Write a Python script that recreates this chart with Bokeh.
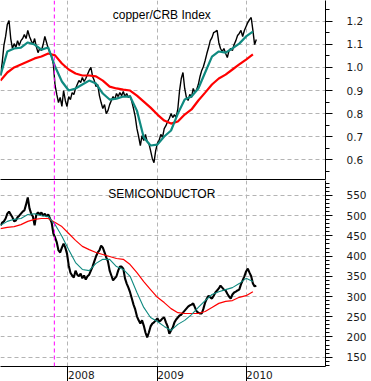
import pandas as pd
from bokeh.plotting import figure
from bokeh.models import (Range1d, LinearAxis, DatetimeAxis, FixedTicker,
                          PrintfTickFormatter, Span, Label, Grid)
from bokeh.layouts import column
from bokeh.embed import file_html
from bokeh.resources import INLINE

# ---------------- data ----------------
weekly_start = "2007-03-30"   # weekly closes
ma_start = "2007-03-30"       # moving averages sampled every 4 weeks

copper = [0.965, 1.021, 1.095, 1.134, 1.186, 1.203, 1.125, 1.082, 1.103, 1.086,
          1.116, 1.095, 1.116, 1.125, 1.142, 1.125, 1.160, 1.134, 1.116, 1.099,
          1.125, 1.090, 1.064, 1.082, 1.073, 1.099, 1.134, 1.108, 1.082, 1.064,
          1.047, 1.013, 0.922, 0.883, 0.848, 0.870, 0.831, 0.900, 0.857, 0.831,
          0.874, 0.861, 0.891, 0.883, 0.909, 0.926, 0.943, 0.935, 0.956, 0.939,
          0.952, 0.969, 0.987, 1.000, 0.961, 0.943, 0.917, 0.926, 0.878, 0.848,
          0.822, 0.839, 0.800, 0.813, 0.839, 0.857, 0.874, 0.861, 0.887, 0.874,
          0.891, 0.878, 0.896, 0.874, 0.887, 0.870, 0.878, 0.852, 0.822, 0.787,
          0.735, 0.701, 0.662, 0.705, 0.684, 0.710, 0.679, 0.671, 0.640, 0.606,
          0.588, 0.640, 0.671, 0.684, 0.710, 0.697, 0.735, 0.748, 0.766, 0.779,
          0.800, 0.783, 0.796, 0.783, 0.822, 0.900, 0.952, 0.978, 0.909, 0.870,
          0.857, 0.883, 0.870, 0.909, 0.891, 0.904, 0.926, 0.961, 0.987, 1.004,
          1.030, 1.060, 1.086, 1.116, 1.129, 1.151, 1.155, 1.160, 1.108, 1.082,
          1.069, 1.082, 1.060, 1.043, 1.073, 1.082, 1.073, 1.099, 1.116, 1.138,
          1.147, 1.160, 1.134, 1.160, 1.177, 1.194, 1.207, 1.216, 1.160, 1.099,
          1.121]
copper_fast = [0.965, 1.069, 1.082, 1.086, 1.108, 1.099, 1.077, 1.086, 1.004, 0.939,
               0.900, 0.909, 0.926, 0.943, 0.930, 0.887, 0.861, 0.865, 0.874, 0.874,
               0.813, 0.697, 0.662, 0.666, 0.701, 0.727, 0.800, 0.861, 0.874, 0.909,
               0.978, 1.047, 1.069, 1.064, 1.082, 1.103, 1.134, 1.155]
copper_slow = [0.943, 0.978, 1.000, 1.013, 1.026, 1.039, 1.047, 1.060, 1.052, 1.017,
               0.991, 0.974, 0.965, 0.965, 0.961, 0.943, 0.917, 0.909, 0.904, 0.900,
               0.878, 0.852, 0.826, 0.796, 0.770, 0.757, 0.766, 0.796, 0.818, 0.857,
               0.891, 0.926, 0.952, 0.969, 0.991, 1.013, 1.034, 1.056]

semi = [476, 483, 486, 493, 505, 510, 503, 496, 486, 488,
        496, 500, 505, 510, 513, 528, 545, 518, 505, 498,
        476, 503, 508, 503, 508, 500, 505, 498, 503, 493,
        483, 456, 446, 434, 414, 409, 421, 431, 421, 406,
        377, 359, 352, 347, 364, 354, 350, 357, 345, 352,
        342, 350, 354, 364, 374, 387, 399, 409, 414, 426,
        421, 409, 397, 387, 364, 352, 340, 345, 350, 364,
        374, 374, 369, 345, 332, 322, 310, 295, 280, 268,
        251, 241, 233, 241, 228, 211, 199, 211, 226, 233,
        236, 241, 246, 238, 241, 246, 248, 236, 226, 208,
        216, 223, 236, 243, 248, 253, 255, 260, 265, 270,
        275, 278, 280, 283, 273, 263, 260, 258, 258, 270,
        285, 295, 302, 298, 295, 302, 310, 315, 320, 327,
        322, 317, 315, 307, 300, 295, 305, 310, 312, 315,
        317, 330, 340, 350, 362, 369, 359, 350, 332, 325,
        327]
semi_fast = [476, 486, 491, 493, 503, 505, 500, 498, 478, 449,
             416, 384, 367, 364, 382, 392, 392, 374, 367, 350,
             310, 273, 248, 238, 226, 216, 231, 241, 255, 273,
             290, 305, 312, 317, 322, 332, 345, 337]
semi_slow = [468, 471, 473, 478, 486, 491, 493, 493, 483, 473,
             456, 439, 424, 416, 409, 404, 399, 394, 392, 379,
             359, 337, 317, 298, 285, 270, 260, 258, 258, 258,
             263, 273, 283, 288, 290, 298, 302, 312]

year_dates = ["2008-01-01", "2009-01-01", "2010-01-01"]
year_labels = ["2008", "2009", "2010"]
event_date = "2007-11-06"

copper_ticks = [0.6, 0.7, 0.8, 0.9, 1.0, 1.1, 1.2]
semi_ticks = [150, 200, 250, 300, 350, 400, 450, 500, 550]
copper_title = "copper/CRB Index"
semi_title = "SEMICONDUCTOR"

# ---------------- helpers ----------------
def ms(d):
    return pd.Timestamp(d).value / 1e6

weekly = pd.date_range(weekly_start, periods=len(copper), freq="7D")
monthly = pd.date_range(ma_start, periods=len(copper_fast), freq="28D")
year_ms = [ms(d) for d in year_dates]

x_range = Range1d(ms("2007-03-30"), ms("2010-11-23"))

BLACK = "#000000"
TEAL = "#0f8a80"
RED = "#ff0000"
GRID = "#b4b4b4"
FONT_AX = "DejaVu Sans"
FONT_T = "Liberation Sans"
FIG_SPACE = "\u2007"   # digit-wide space: puts each year label just right of its tick


def make_fig(y_range, frame_h, border_bottom):
    p = figure(x_axis_type="datetime", x_range=x_range, y_range=y_range,
               frame_width=325, frame_height=frame_h,
               x_axis_location=None, y_axis_location=None,
               output_backend="svg", toolbar_location=None,
               min_border_left=0, min_border_right=46, min_border_top=0,
               min_border_bottom=border_bottom,
               background_fill_color="white", border_fill_color="white",
               outline_line_color=None)
    p.grid.visible = False
    p.add_layout(Grid(dimension=0, ticker=FixedTicker(ticks=year_ms),
                      grid_line_color=GRID, grid_line_dash="4 3"))
    p.add_layout(Span(location=ms(event_date), dimension="height",
                      line_color="#ff00ff", line_dash="4 3", line_width=1))
    return p


def right_axis(ticks, minor, fmt):
    return LinearAxis(ticker=FixedTicker(ticks=ticks, minor_ticks=minor),
                      formatter=PrintfTickFormatter(format=fmt),
                      major_tick_out=7, major_tick_in=0,
                      minor_tick_out=4, minor_tick_in=0,
                      major_label_standoff=14,
                      major_label_text_font=FONT_AX,
                      major_label_text_font_size="10.5px",
                      major_label_text_color="#1a1a1a",
                      axis_line_color="black", major_tick_line_color="black",
                      minor_tick_line_color="black")

# ---------------- top panel ----------------
top = make_fig(Range1d(0.515, 1.2896), 179, 1)
top.add_layout(Grid(dimension=1, ticker=FixedTicker(ticks=copper_ticks),
                    grid_line_color=GRID, grid_line_dash="4 3"))
top.line(weekly, copper, line_color=BLACK, line_width=1.4)
top.line(monthly, copper_slow, line_color=RED, line_width=2.2)
top.line(monthly, copper_fast, line_color=TEAL, line_width=2.2)
top.add_layout(right_axis(copper_ticks,
                          [round(0.55 + 0.05 * i, 2) for i in range(15)], "%.1f"),
               "right")
sep = LinearAxis(ticker=FixedTicker(ticks=[]), major_label_text_font_size="0px",
                 major_tick_out=0, major_tick_in=0, minor_tick_out=0,
                 minor_tick_in=0, major_label_standoff=0, axis_line_color="black")
top.add_layout(sep, "below")
top.add_layout(Label(x=ms("2009-01-20"), y=1.225, text=copper_title,
                     text_align="center", text_baseline="alphabetic",
                     text_font=FONT_T, text_font_size="12px", text_color="black"))

# ---------------- bottom panel ----------------
bot = make_fig(Range1d(126.8, 587.1), 186, 0)
bot.add_layout(Grid(dimension=1, ticker=FixedTicker(ticks=semi_ticks),
                    grid_line_color=GRID, grid_line_dash="4 3"))
bot.line(weekly, semi, line_color=BLACK, line_width=2.1)
bot.line(monthly, semi_slow, line_color=RED, line_width=1.2)
bot.line(monthly, semi_fast, line_color=TEAL, line_width=1.1)
bot.add_layout(right_axis(semi_ticks, list(range(130, 588, 10)), "%d"), "right")
xax = DatetimeAxis(ticker=FixedTicker(ticks=year_ms, minor_ticks=[]),
                   major_label_overrides={t: FIG_SPACE * 4 + lab
                                          for t, lab in zip(year_ms, year_labels)},
                   major_tick_out=15, major_tick_in=0,
                   minor_tick_out=0, minor_tick_in=0,
                   major_label_standoff=-13,
                   major_label_text_font=FONT_AX,
                   major_label_text_font_size="10.5px",
                   major_label_text_color="#1a1a1a",
                   axis_line_color="black", major_tick_line_color="black")
bot.add_layout(xax, "below")
bot.add_layout(Label(x=ms("2009-01-20"), y=552.5, text=semi_title,
                     text_align="center", text_baseline="alphabetic",
                     text_font=FONT_T, text_font_size="12px", text_color="black"))

layout = column(top, bot, spacing=0)
open("out.html", "w").write(file_html(layout, INLINE))
